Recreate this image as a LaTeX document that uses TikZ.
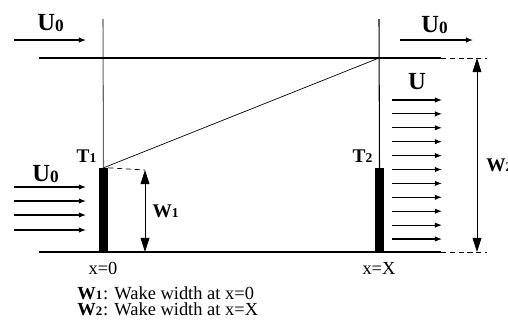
\documentclass[tikz,border=0pt]{standalone}
\usepackage{fontspec}
\setmainfont{Liberation Serif}
\usetikzlibrary{arrows.meta, positioning}
\newcommand{\idx}[1]{\raisebox{.3ex}{\textsubscript{\textbf{#1}}}}

\begin{document}
\begin{tikzpicture}[x=0.02cm, y=-0.02cm,
    flow/.style={-{Latex[length=4pt,width=3pt]}, line width=0.6pt},
    wake/.style={{Triangle[length=8pt,width=5pt]}-{Triangle[length=8pt,width=5pt]}, line width=0.5pt},
    bar/.style={fill=black, inner sep=0pt, minimum width=5pt, minimum height=47.6pt},
    biglbl/.style={inner sep=0pt, font=\bfseries\fontsize{14}{16}\selectfont},
    tlbl/.style={inner sep=0pt, font=\bfseries\fontsize{11}{13}\selectfont},
    xlbl/.style={inner sep=0pt, font=\fontsize{10.5}{12}\selectfont},
    leglbl/.style={inner sep=0pt, anchor=west, font=\fontsize{10.5}{12}\selectfont}]
  \useasboundingbox (0,0) rectangle (508,325);
  \coordinate (top1) at (103,19);
  \coordinate (top2) at (379,19);
  \coordinate (lineL) at (39,58);
  \coordinate (apex) at (379,58);
  \coordinate (lineR) at (441,58);
  \coordinate (dashR) at (487,58);
  \coordinate (baseL) at (39,252);
  \coordinate (baseR) at (441,252);
  \coordinate (dashB) at (487,252);
  \node[bar] (t1bar) at (103.5,210) {};
  \node[bar] (t2bar) at (379.5,210) {};
  \node[tlbl] (t1) at (87,156) {T\idx{1}};
  \node[tlbl] (t2) at (363,156) {T\idx{2}};
  \draw[gray!80!black, line width=0.6pt] (top1) -- (t1bar.north);
  \draw[line width=0.6pt] (top2) -- (t2bar.north);
  \draw[line width=0.6pt] (lineL) -- (lineR);
  \draw[densely dashed] (lineR) -- (dashR);
  \draw[line width=0.6pt] (baseL) -- (baseR);
  \draw[densely dashed] (baseR) -- (dashB);
  \draw (t1bar.north) -- (apex);
  \coordinate (w1top) at (145,170);
  \coordinate (w1bot) at (145,252);
  \draw[densely dashed] (t1bar.north east) -- (w1top);
  \draw[wake] (w1top) -- (w1bot);
  \node[tlbl] (w1) at (166,211) {W\idx{1}};
  \coordinate (w2top) at (477,58);
  \coordinate (w2bot) at (477,252);
  \draw[wake] (w2top) -- (w2bot);
  \node[tlbl, anchor=west] (w2) at (486,165) {W\idx{2}};
  \coordinate (inA) at (14,40);
  \coordinate (inB) at (86,40);
  \draw[flow] (inA) -- (inB);
  \node[biglbl] (u0a) at (51,23) {U\idx{0}};
  \coordinate (outA) at (400,40);
  \coordinate (outB) at (473,40);
  \draw[flow] (outA) -- (outB);
  \node[biglbl] (u0b) at (435,25) {U\idx{0}};
  \node[biglbl] (u0c) at (46,174) {U\idx{0}};
  \foreach \y [count=\i] in {187,201,215,230}{
    \coordinate (upL\i) at (14,\y);
    \coordinate (upR\i) at (86,\y);
    \draw[flow] (upL\i) -- (upR\i);
  }
  \node[biglbl] (u) at (417,82) {U};
  \foreach \i in {0,...,10}{
    \coordinate (wkL\i) at (392,100+13.9*\i);
    \coordinate (wkR\i) at (442,100+13.9*\i);
    \draw[flow] (wkL\i) -- (wkR\i);
  }
  \node[xlbl] (x0) at (103,268) {x=0};
  \node[xlbl] (xX) at (379,268) {x=X};
  \node[leglbl] (leg1) at (77,293) {\textbf{W}\idx{1}: Wake width at x=0};
  \node[leglbl] (leg2) at (77,309) {\textbf{W}\idx{2}: Wake width at x=X};
\end{tikzpicture}
\end{document}
